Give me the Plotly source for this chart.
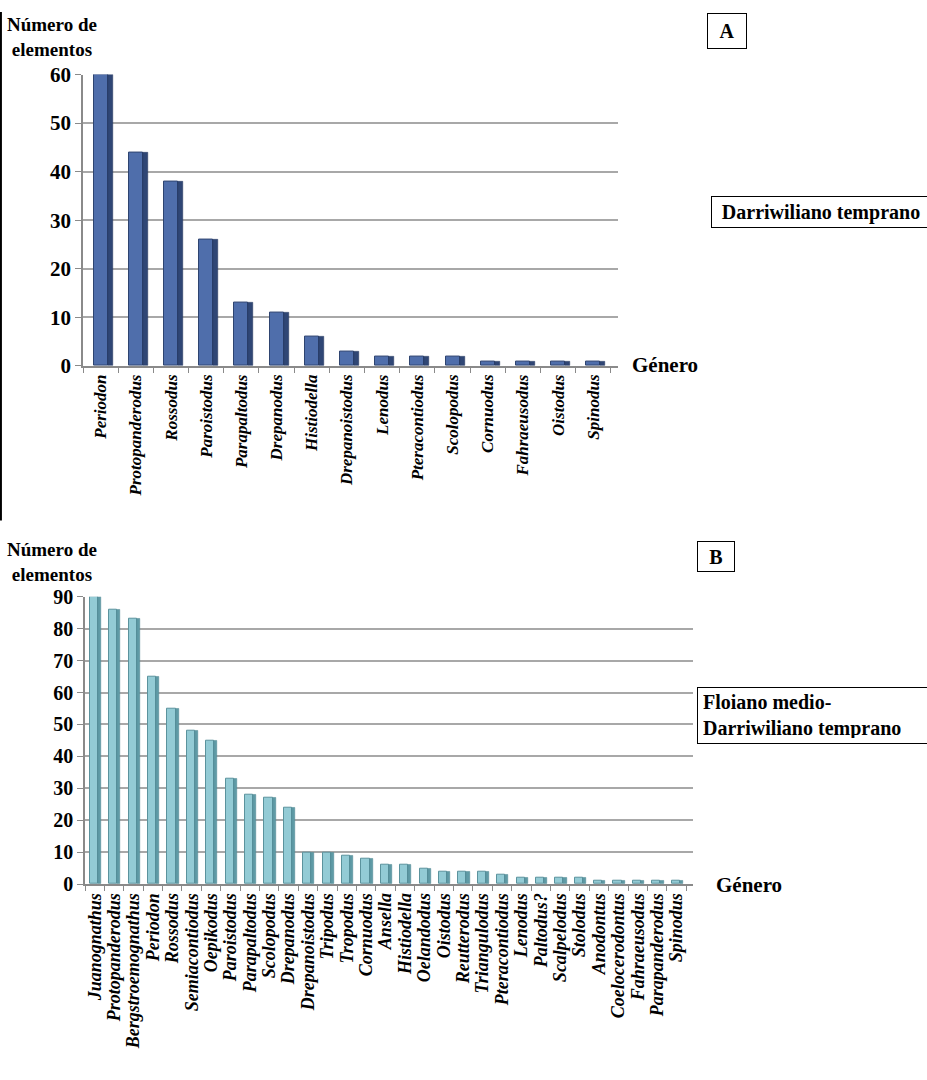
import plotly.graph_objects as go

W, H = 927, 1080

# ---------- data ----------
genera_a = ["Periodon", "Protopanderodus", "Rossodus", "Paroistodus", "Parapaltodus",
            "Drepanodus", "Histiodella", "Drepanoistodus", "Lenodus", "Pteracontiodus",
            "Scolopodus", "Cornuodus", "Fahraeusodus", "Oistodus", "Spinodus"]
values_a = [60, 44, 38, 26, 13, 11, 6, 3, 2, 2, 2, 1, 1, 1, 1]

genera_b = ["Juanognathus", "Protopanderodus", "Bergstroemognathus", "Periodon", "Rossodus",
            "Semiacontiodus", "Oepikodus", "Paroistodus", "Parapaltodus", "Scolopodus",
            "Drepanodus", "Drepanoistodus", "Tripodus", "Tropodus", "Cornuodus",
            "Ansella", "Histiodella", "Oelandodus", "Oistodus", "Reutterodus",
            "Triangulodus", "Pteracontiodus", "Lenodus", "Paltodus?", "Scalpelodus",
            "Stolodus", "Anodontus", "Coelocerodontus", "Fahraeusodus", "Parapanderodus",
            "Spinodus"]
values_b = [90, 86, 83, 65, 55, 48, 45, 33, 28, 27, 24, 10, 10, 9, 8, 6, 6, 5, 4, 4,
            4, 3, 2, 2, 2, 2, 1, 1, 1, 1, 1]

ticks_a = [0, 10, 20, 30, 40, 50, 60]
ticks_b = [0, 10, 20, 30, 40, 50, 60, 70, 80, 90]

FONT = "Liberation Serif"

def px(x):
    return x / W

def py(y):
    return 1 - y / H

fig = go.Figure()

# Panel A bars (front face + darker side face)
fig.add_trace(go.Bar(x=genera_a, y=values_a, xaxis="x", yaxis="y",
                     width=0.40, offset=-0.2,
                     marker=dict(color="#4F6EAB", line=dict(color="#2E4470", width=1)),
                     showlegend=False, hoverinfo="x+y"))
fig.add_trace(go.Bar(x=genera_a, y=values_a, xaxis="x", yaxis="y",
                     width=0.14, offset=0.2,
                     marker=dict(color="#2F4675", line=dict(color="#22355C", width=0.5)),
                     showlegend=False, hoverinfo="skip"))

# Panel B bars
fig.add_trace(go.Bar(x=genera_b, y=values_b, xaxis="x2", yaxis="y2",
                     width=0.42, offset=-0.25,
                     marker=dict(color="#93CBD5", line=dict(color="#5B939D", width=1)),
                     showlegend=False, hoverinfo="x+y"))
fig.add_trace(go.Bar(x=genera_b, y=values_b, xaxis="x2", yaxis="y2",
                     width=0.16, offset=0.17,
                     marker=dict(color="#5F9BA6", line=dict(color="#4D8590", width=0.5)),
                     showlegend=False, hoverinfo="skip"))

grid_col = "#A8A8A8"
axis_col = "#8A8A8A"

common_x = dict(type="category", tickangle=-90, showgrid=False, zeroline=False,
                showline=True, linecolor=axis_col, linewidth=1.5,
                tickmode="linear", tick0=0, dtick=1,
                ticks="outside", tickson="boundaries", ticklen=5, tickcolor=axis_col,
                tickfont=dict(family=FONT, size=17, color="black", weight="bold", style="italic"),
                fixedrange=True)
common_y = dict(showgrid=True, gridcolor=grid_col, gridwidth=1.5, zeroline=False,
                showline=True, linecolor=axis_col, linewidth=1.5,
                ticks="outside", ticklen=6, tickcolor=axis_col,
                tickfont=dict(family=FONT, size=21, color="black", weight="bold"),
                fixedrange=True)

xa = dict(common_x, domain=[px(83), px(618)], range=[-0.5, 14.7], anchor="y",
          categoryorder="array", categoryarray=genera_a)
ya = dict(common_y, domain=[py(362), py(64)], range=[0, 60], tickvals=ticks_a, anchor="x")
xb = dict(common_x, domain=[px(85), px(693)], range=[-0.5, 30.85], anchor="y2",
          categoryorder="array", categoryarray=genera_b)
xb["tickfont"] = dict(family=FONT, size=18, color="black", weight="bold", style="italic")
yb = dict(common_y, domain=[py(892), py(598)], range=[0, 90], tickvals=ticks_b, anchor="x2")
yb["tickfont"] = dict(family=FONT, size=20, color="black", weight="bold")

annotations = []

def title_ann(y_top):
    return dict(text="Número de<br>elementos", xref="paper", yref="paper",
                x=px(52), y=py(y_top), xanchor="center", yanchor="top", showarrow=False,
                align="center", font=dict(family=FONT, size=19, color="black", weight="bold"))

annotations.append(title_ann(0))
annotations.append(title_ann(537))

def genero(xp, yp):
    return dict(text="Género", xref="paper", yref="paper", x=px(xp), y=py(yp),
                xanchor="left", yanchor="middle", showarrow=False,
                font=dict(family=FONT, size=21, color="black", weight="bold"))

annotations.append(genero(630, 361))
annotations.append(genero(714, 893))

def box(text, x0, y0, w, h, align="center", pad=0):
    return dict(text=text, xref="paper", yref="paper", x=px(x0), y=py(y0),
                xanchor="left", yanchor="top", showarrow=False, width=w, height=h,
                align=align, bordercolor="black", borderwidth=1, bgcolor="white",
                borderpad=pad,
                font=dict(family=FONT, size=20, color="black", weight="bold"))

annotations.append(box("A", 707, 1, 38, 34))
annotations.append(box("Darriwiliano temprano", 711, 188, 218, 30))
annotations.append(box("B", 697, 541, 36, 29))
annotations.append(box("Floiano medio-<br>Darriwiliano temprano", 697, 690, 222, 45,
                       align="left", pad=5))

shapes = [dict(type="line", xref="paper", yref="paper", x0=0.001, x1=0.001,
               y0=1, y1=py(520), line=dict(color="black", width=2))]

fig.update_layout(width=W, height=H, margin=dict(l=0, r=0, t=0, b=0),
                  paper_bgcolor="white", plot_bgcolor="white",
                  barmode="overlay", bargap=0,
                  xaxis=xa, yaxis=ya, xaxis2=xb, yaxis2=yb,
                  annotations=annotations, shapes=shapes,
                  font=dict(family=FONT, color="black"))

fig.write_html("out.html", config={"displayModeBar": False},
               post_script="document.body.style.margin='0px';document.body.style.overflow='hidden';")
